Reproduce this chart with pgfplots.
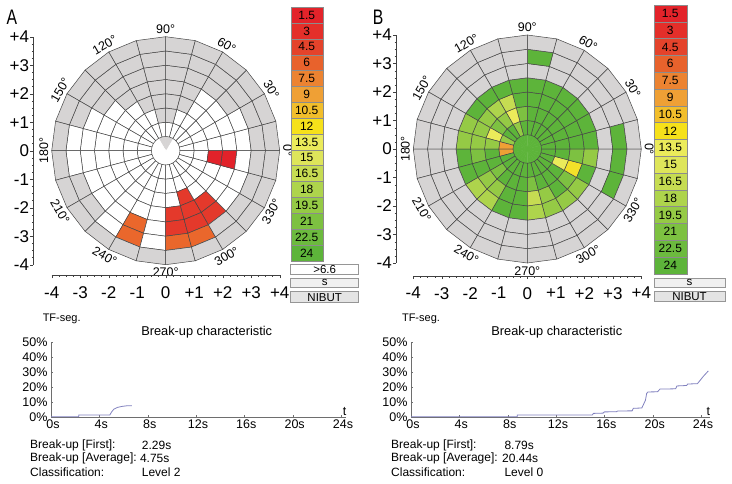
\documentclass[border=0pt]{standalone}
\usepackage{pgfplots}
\usepackage{pgfplotstable}
\pgfplotsset{compat=1.18}
\usepackage{fontspec}
\setmainfont{Liberation Sans}
\newcommand{\fs}[1]{\fontsize{#1}{#1}\selectfont}
\definecolor{gridc}{RGB}{70,70,70}
\definecolor{curvec}{RGB}{128,128,190}
\definecolor{axc}{RGB}{110,110,110}
\definecolor{boxb}{RGB}{150,150,150}
\definecolor{boxs}{RGB}{240,240,240}
\definecolor{boxn}{RGB}{228,228,228}
\definecolor{cb1}{RGB}{227,35,42}
\definecolor{cb2}{RGB}{228,47,42}
\definecolor{cb3}{RGB}{228,67,43}
\definecolor{cb4}{RGB}{232,98,44}
\definecolor{cb5}{RGB}{236,131,49}
\definecolor{cb6}{RGB}{239,160,53}
\definecolor{cb7}{RGB}{242,190,43}
\definecolor{cb8}{RGB}{246,225,26}
\definecolor{cb9}{RGB}{235,235,90}
\definecolor{cb10}{RGB}{222,229,90}
\definecolor{cb11}{RGB}{198,220,82}
\definecolor{cb12}{RGB}{174,212,76}
\definecolor{cb13}{RGB}{149,202,69}
\definecolor{cb14}{RGB}{125,193,65}
\definecolor{cb15}{RGB}{108,186,62}
\definecolor{cb16}{RGB}{93,180,58}

\pgfplotsset{
  colormap={mapA}{rgb255=(214,212,212) rgb255=(255,255,255) rgb255=(226,34,42) rgb255=(228,57,43) rgb255=(234,103,44)},
  colormap={mapB}{rgb255=(214,212,212) rgb255=(93,180,58) rgb255=(108,186,62) rgb255=(125,193,65) rgb255=(149,202,69) rgb255=(174,212,76) rgb255=(198,220,82) rgb255=(235,235,90) rgb255=(243,225,41) rgb255=(239,160,53)},
  polarstyle/.style={anchor=south west, scale only axis, width=228pt, height=228pt,
    xmin=-4,xmax=4,ymin=-4,ymax=4, hide axis, clip=false, colormap access=direct},
  cellplot/.style={surf, shader=flat corner, draw=gridc, line width=0.5pt, point meta=explicit, mesh/cols=25},
  centerplot/.style={surf, shader=flat corner, point meta=explicit, mesh/cols=25},
  yline/.style={anchor=south west, scale only axis, width=5pt, height=228pt,
    xmin=0,xmax=1,ymin=-4,ymax=4, axis x line=none, axis y line=left,
    axis line style={-, draw=black!75}, ytick={-4,...,4},
    yticklabels={-4,-3,-2,-1,0,+1,+2,+3,+4}, minor y tick num=3, tick align=outside,
    major tick length=3pt, minor tick length=1.5pt, tick style={black!75},
    yticklabel style={font=\fs{17}, inner sep=1pt}},
  xline/.style={anchor=south west, scale only axis, width=228pt, height=5pt,
    xmin=-4,xmax=4,ymin=0,ymax=1, axis y line=none, axis x line=bottom,
    axis line style={-, draw=black!75}, xtick={-4,...,4},
    xticklabels={-4,-3,-2,-1,0,+1,+2,+3,+4}, minor x tick num=3, tick align=outside,
    major tick length=3pt, minor tick length=1.5pt, tick style={black!75},
    xticklabel style={font=\fs{17}, inner sep=1pt, yshift=-7pt}},
  tfstyle/.style={anchor=south west, scale only axis, height=75pt,
    xmin=0, ymin=0, ymax=50, axis x line=bottom, axis y line=left,
    axis line style={-, draw=axc}, xtick={0,4,...,24},
    xticklabels={0s,4s,8s,12s,16s,20s,24s}, ytick={0,10,...,50},
    yticklabels={0\%,10\%,20\%,30\%,40\%,50\%}, tick style={axc}, tick align=inside,
    major tick length=2pt, xticklabel style={font=\fs{12.5}, xshift=2pt},
    yticklabel style={font=\fs{12.5}}, clip=false},
}

% polar cell values: a = angle (deg), r = radius, c = colour class
\pgfplotstableread[row sep=\\]{
a r c\\
0 0.5 1\\15 0.5 1\\30 0.5 1\\45 0.5 1\\60 0.5 1\\75 0.5 1\\90 0.5 1\\105 0.5 1\\120 0.5 1\\135 0.5 1\\150 0.5 1\\165 0.5 1\\180 0.5 1\\195 0.5 1\\210 0.5 1\\225 0.5 1\\240 0.5 1\\255 0.5 1\\270 0.5 1\\285 0.5 1\\300 0.5 1\\315 0.5 1\\330 0.5 1\\345 0.5 1\\360 0.5 0\\
0 1 1\\15 1 1\\30 1 1\\45 1 1\\60 1 1\\75 1 0\\90 1 0\\105 1 1\\120 1 1\\135 1 1\\150 1 1\\165 1 1\\180 1 1\\195 1 1\\210 1 1\\225 1 1\\240 1 1\\255 1 1\\270 1 1\\285 1 1\\300 1 1\\315 1 1\\330 1 1\\345 1 1\\360 1 0\\
0 1.5 1\\15 1.5 1\\30 1.5 1\\45 1.5 1\\60 1.5 0\\75 1.5 0\\90 1.5 0\\105 1.5 0\\120 1.5 1\\135 1.5 1\\150 1.5 1\\165 1.5 1\\180 1.5 1\\195 1.5 1\\210 1.5 1\\225 1.5 1\\240 1.5 1\\255 1.5 1\\270 1.5 1\\285 1.5 3\\300 1.5 1\\315 1.5 1\\330 1.5 1\\345 1.5 2\\360 1.5 0\\
0 2 1\\15 2 1\\30 2 1\\45 2 1\\60 2 0\\75 2 0\\90 2 0\\105 2 0\\120 2 0\\135 2 1\\150 2 1\\165 2 1\\180 2 1\\195 2 1\\210 2 1\\225 2 1\\240 2 1\\255 2 1\\270 2 3\\285 2 3\\300 2 3\\315 2 1\\330 2 1\\345 2 2\\360 2 0\\
0 2.5 1\\15 2.5 1\\30 2.5 0\\45 2.5 0\\60 2.5 0\\75 2.5 0\\90 2.5 0\\105 2.5 0\\120 2.5 0\\135 2.5 0\\150 2.5 1\\165 2.5 1\\180 2.5 1\\195 2.5 1\\210 2.5 1\\225 2.5 1\\240 2.5 4\\255 2.5 1\\270 2.5 3\\285 2.5 3\\300 2.5 3\\315 2.5 1\\330 2.5 1\\345 2.5 1\\360 2.5 0\\
0 3 0\\15 3 0\\30 3 0\\45 3 0\\60 3 0\\75 3 0\\90 3 0\\105 3 0\\120 3 0\\135 3 0\\150 3 0\\165 3 1\\180 3 1\\195 3 0\\210 3 0\\225 3 1\\240 3 4\\255 3 1\\270 3 4\\285 3 4\\300 3 0\\315 3 0\\330 3 0\\345 3 0\\360 3 0\\
0 3.5 0\\15 3.5 0\\30 3.5 0\\45 3.5 0\\60 3.5 0\\75 3.5 0\\90 3.5 0\\105 3.5 0\\120 3.5 0\\135 3.5 0\\150 3.5 0\\165 3.5 0\\180 3.5 0\\195 3.5 0\\210 3.5 0\\225 3.5 0\\240 3.5 0\\255 3.5 0\\270 3.5 0\\285 3.5 0\\300 3.5 0\\315 3.5 0\\330 3.5 0\\345 3.5 0\\360 3.5 0\\
0 4 0\\15 4 0\\30 4 0\\45 4 0\\60 4 0\\75 4 0\\90 4 0\\105 4 0\\120 4 0\\135 4 0\\150 4 0\\165 4 0\\180 4 0\\195 4 0\\210 4 0\\225 4 0\\240 4 0\\255 4 0\\270 4 0\\285 4 0\\300 4 0\\315 4 0\\330 4 0\\345 4 0\\360 4 0\\
}\cellsA

\pgfplotstableread[row sep=\\]{
a r c\\
0 0 1\\15 0 1\\30 0 1\\45 0 1\\60 0 0\\75 0 0\\90 0 0\\105 0 0\\120 0 1\\135 0 1\\150 0 1\\165 0 1\\180 0 1\\195 0 1\\210 0 1\\225 0 1\\240 0 1\\255 0 1\\270 0 1\\285 0 1\\300 0 1\\315 0 1\\330 0 1\\345 0 1\\360 0 1\\
0 0.5 1\\15 0.5 1\\30 0.5 1\\45 0.5 1\\60 0.5 1\\75 0.5 1\\90 0.5 1\\105 0.5 1\\120 0.5 1\\135 0.5 1\\150 0.5 1\\165 0.5 1\\180 0.5 1\\195 0.5 1\\210 0.5 1\\225 0.5 1\\240 0.5 1\\255 0.5 1\\270 0.5 1\\285 0.5 1\\300 0.5 1\\315 0.5 1\\330 0.5 1\\345 0.5 1\\360 0.5 1\\
}\centerA

\pgfplotstableread[row sep=\\]{
a r c\\
0 0.5 1\\15 0.5 1\\30 0.5 1\\45 0.5 1\\60 0.5 1\\75 0.5 1\\90 0.5 1\\105 0.5 4\\120 0.5 1\\135 0.5 1\\150 0.5 4\\165 0.5 9\\180 0.5 9\\195 0.5 1\\210 0.5 1\\225 0.5 1\\240 0.5 1\\255 0.5 1\\270 0.5 1\\285 0.5 1\\300 0.5 1\\315 0.5 1\\330 0.5 1\\345 0.5 1\\360 0.5 0\\
0 1 1\\15 1 1\\30 1 1\\45 1 1\\60 1 1\\75 1 1\\90 1 3\\105 1 7\\120 1 4\\135 1 3\\150 1 7\\165 1 4\\180 1 1\\195 1 1\\210 1 3\\225 1 1\\240 1 1\\255 1 1\\270 1 3\\285 1 1\\300 1 1\\315 1 1\\330 1 7\\345 1 1\\360 1 0\\
0 1.5 1\\15 1.5 1\\30 1.5 1\\45 1.5 1\\60 1.5 1\\75 1.5 1\\90 1.5 1\\105 1.5 6\\120 1.5 5\\135 1.5 4\\150 1.5 4\\165 1.5 4\\180 1.5 3\\195 1.5 1\\210 1.5 4\\225 1.5 4\\240 1.5 1\\255 1.5 1\\270 1.5 6\\285 1.5 4\\300 1.5 1\\315 1.5 3\\330 1.5 8\\345 1.5 3\\360 1.5 0\\
0 2 1\\15 2 1\\30 2 1\\45 2 1\\60 2 1\\75 2 1\\90 2 1\\105 2 1\\120 2 1\\135 2 1\\150 2 4\\165 2 4\\180 2 1\\195 2 1\\210 2 5\\225 2 5\\240 2 1\\255 2 1\\270 2 5\\285 2 4\\300 2 4\\315 2 4\\330 2 1\\345 2 4\\360 2 0\\
0 2.5 0\\15 2.5 0\\30 2.5 0\\45 2.5 0\\60 2.5 0\\75 2.5 0\\90 2.5 0\\105 2.5 0\\120 2.5 0\\135 2.5 0\\150 2.5 0\\165 2.5 0\\180 2.5 0\\195 2.5 0\\210 2.5 0\\225 2.5 0\\240 2.5 0\\255 2.5 0\\270 2.5 0\\285 2.5 0\\300 2.5 0\\315 2.5 0\\330 2.5 0\\345 2.5 0\\360 2.5 0\\
0 3 1\\15 3 0\\30 3 0\\45 3 0\\60 3 0\\75 3 1\\90 3 0\\105 3 0\\120 3 0\\135 3 0\\150 3 0\\165 3 0\\180 3 0\\195 3 0\\210 3 0\\225 3 0\\240 3 0\\255 3 0\\270 3 0\\285 3 0\\300 3 0\\315 3 0\\330 3 1\\345 3 1\\360 3 0\\
0 3.5 0\\15 3.5 0\\30 3.5 0\\45 3.5 0\\60 3.5 0\\75 3.5 0\\90 3.5 0\\105 3.5 0\\120 3.5 0\\135 3.5 0\\150 3.5 0\\165 3.5 0\\180 3.5 0\\195 3.5 0\\210 3.5 0\\225 3.5 0\\240 3.5 0\\255 3.5 0\\270 3.5 0\\285 3.5 0\\300 3.5 0\\315 3.5 0\\330 3.5 0\\345 3.5 0\\360 3.5 0\\
0 4 0\\15 4 0\\30 4 0\\45 4 0\\60 4 0\\75 4 0\\90 4 0\\105 4 0\\120 4 0\\135 4 0\\150 4 0\\165 4 0\\180 4 0\\195 4 0\\210 4 0\\225 4 0\\240 4 0\\255 4 0\\270 4 0\\285 4 0\\300 4 0\\315 4 0\\330 4 0\\345 4 0\\360 4 0\\
}\cellsB

\pgfplotstableread[row sep=\\]{
a r c\\
0 0 1\\15 0 1\\30 0 1\\45 0 1\\60 0 1\\75 0 1\\90 0 1\\105 0 1\\120 0 1\\135 0 1\\150 0 1\\165 0 1\\180 0 1\\195 0 1\\210 0 1\\225 0 1\\240 0 1\\255 0 1\\270 0 1\\285 0 1\\300 0 1\\315 0 1\\330 0 1\\345 0 1\\360 0 1\\
0 0.5 1\\15 0.5 1\\30 0.5 1\\45 0.5 1\\60 0.5 1\\75 0.5 1\\90 0.5 1\\105 0.5 1\\120 0.5 1\\135 0.5 1\\150 0.5 1\\165 0.5 1\\180 0.5 1\\195 0.5 1\\210 0.5 1\\225 0.5 1\\240 0.5 1\\255 0.5 1\\270 0.5 1\\285 0.5 1\\300 0.5 1\\315 0.5 1\\330 0.5 1\\345 0.5 1\\360 0.5 1\\
}\centerB

\begin{document}
\begin{tikzpicture}
\path[use as bounding box] (0pt,0pt) rectangle (732pt,483pt);

% ================= Panel A polar =================
\begin{axis}[polarstyle, at={(51.7pt,218.3pt)}, colormap name=mapA]
\addplot[centerplot] table[x expr={\thisrow{r}*cos(\thisrow{a})}, y expr={\thisrow{r}*sin(\thisrow{a})}, meta=c]{\centerA};
\addplot[cellplot] table[x expr={\thisrow{r}*cos(\thisrow{a})}, y expr={\thisrow{r}*sin(\thisrow{a})}, meta=c]{\cellsA};
\node[font=\fs{12.5}, inner sep=1pt, rotate=-90, anchor=south] at (axis cs:4.08,0) {0°};
\node[font=\fs{12.5}, inner sep=1pt, rotate=-60, anchor=south] at (axis cs:3.533,2.04) {30°};
\node[font=\fs{12.5}, inner sep=1pt, rotate=-30, anchor=south] at (axis cs:2.04,3.533) {60°};
\node[font=\fs{12.5}, inner sep=1pt, rotate=0, anchor=south] at (axis cs:0,4.08) {90°};
\node[font=\fs{12.5}, inner sep=1pt, rotate=30, anchor=south] at (axis cs:-2.04,3.533) {120°};
\node[font=\fs{12.5}, inner sep=1pt, rotate=60, anchor=south] at (axis cs:-3.533,2.04) {150°};
\node[font=\fs{12.5}, inner sep=1pt, rotate=90, anchor=south] at (axis cs:-4.08,0) {180°};
\node[font=\fs{12.5}, inner sep=1pt, rotate=-60, anchor=north] at (axis cs:-3.533,-2.04) {210°};
\node[font=\fs{12.5}, inner sep=1pt, rotate=-30, anchor=north] at (axis cs:-2.04,-3.533) {240°};
\node[font=\fs{12.5}, inner sep=1pt, rotate=0, anchor=north] at (axis cs:0,-4.08) {270°};
\node[font=\fs{12.5}, inner sep=1pt, rotate=30, anchor=north] at (axis cs:2.04,-3.533) {300°};
\node[font=\fs{12.5}, inner sep=1pt, rotate=60, anchor=north] at (axis cs:3.533,-2.04) {330°};
\end{axis}
\begin{axis}[yline, at={(33.3pt,218.3pt)}]
\addplot[draw=none, forget plot] coordinates {(0.5,0)};
\end{axis}
\begin{axis}[xline, at={(51.7pt,207.7pt)}]
\addplot[draw=none, forget plot] coordinates {(0,0.5)};
\end{axis}

% ================= Panel B polar =================
\begin{axis}[polarstyle, at={(413.3pt,220pt)}, colormap name=mapB]
\addplot[centerplot] table[x expr={\thisrow{r}*cos(\thisrow{a})}, y expr={\thisrow{r}*sin(\thisrow{a})}, meta=c]{\centerB};
\addplot[cellplot] table[x expr={\thisrow{r}*cos(\thisrow{a})}, y expr={\thisrow{r}*sin(\thisrow{a})}, meta=c]{\cellsB};
\node[font=\fs{12.5}, inner sep=1pt, rotate=-90, anchor=south] at (axis cs:4.08,0) {0°};
\node[font=\fs{12.5}, inner sep=1pt, rotate=-60, anchor=south] at (axis cs:3.533,2.04) {30°};
\node[font=\fs{12.5}, inner sep=1pt, rotate=-30, anchor=south] at (axis cs:2.04,3.533) {60°};
\node[font=\fs{12.5}, inner sep=1pt, rotate=0, anchor=south] at (axis cs:0,4.08) {90°};
\node[font=\fs{12.5}, inner sep=1pt, rotate=30, anchor=south] at (axis cs:-2.04,3.533) {120°};
\node[font=\fs{12.5}, inner sep=1pt, rotate=60, anchor=south] at (axis cs:-3.533,2.04) {150°};
\node[font=\fs{12.5}, inner sep=1pt, rotate=90, anchor=south] at (axis cs:-4.08,0) {180°};
\node[font=\fs{12.5}, inner sep=1pt, rotate=-60, anchor=north] at (axis cs:-3.533,-2.04) {210°};
\node[font=\fs{12.5}, inner sep=1pt, rotate=-30, anchor=north] at (axis cs:-2.04,-3.533) {240°};
\node[font=\fs{12.5}, inner sep=1pt, rotate=0, anchor=north] at (axis cs:0,-4.08) {270°};
\node[font=\fs{12.5}, inner sep=1pt, rotate=30, anchor=north] at (axis cs:2.04,-3.533) {300°};
\node[font=\fs{12.5}, inner sep=1pt, rotate=60, anchor=north] at (axis cs:3.533,-2.04) {330°};
\end{axis}
\begin{axis}[yline, at={(396pt,220pt)}]
\addplot[draw=none, forget plot] coordinates {(0.5,0)};
\end{axis}
\begin{axis}[xline, at={(413.3pt,207pt)}]
\addplot[draw=none, forget plot] coordinates {(0,0.5)};
\end{axis}

% ================= colour scales =================
\foreach \i/\c/\t in {0/cb1/1.5,1/cb2/3,2/cb3/4.5,3/cb4/6,4/cb5/7.5,5/cb6/9,6/cb7/10.5,7/cb8/12,8/cb9/13.5,9/cb10/15,10/cb11/16.5,11/cb12/18,12/cb13/19.5,13/cb14/21,14/cb15/22.5,15/cb16/24}{
  \filldraw[fill=\c, draw=black!45, line width=0.4pt] (290.7pt,{475.7pt-\i*15.84pt}) rectangle (322.7pt,{475.7pt-(\i+1)*15.84pt});
  \node[font=\fs{12}, inner sep=0pt] at (306.7pt,{475.7pt-(\i+0.5)*15.84pt}) {\t};
  \filldraw[fill=\c, draw=black!45, line width=0.4pt] (654pt,{478pt-\i*16.8pt}) rectangle (686.7pt,{478pt-(\i+1)*16.8pt});
  \node[font=\fs{12}, inner sep=0pt] at (670.3pt,{478pt-(\i+0.5)*16.8pt}) {\t};
}
\filldraw[fill=white, draw=boxb, line width=0.5pt] (290.7pt,208.9pt) rectangle (358.7pt,218.7pt);
\node[font=\fs{11.5}, inner sep=0pt] at (324.7pt,213.8pt) {>6.6};
\filldraw[fill=boxs, draw=boxb, line width=0.5pt] (290.7pt,195.7pt) rectangle (358.7pt,205pt);
\node[font=\fs{11.5}, inner sep=0pt] at (324.7pt,200.8pt) {s};
\filldraw[fill=boxn, draw=boxb, line width=0.5pt] (290.7pt,180.3pt) rectangle (358.7pt,191.3pt);
\node[font=\fs{11.5}, inner sep=0pt] at (324.7pt,185.8pt) {NIBUT};
\filldraw[fill=boxs, draw=boxb, line width=0.5pt] (654pt,195.7pt) rectangle (725pt,204.3pt);
\node[font=\fs{11.5}, inner sep=0pt] at (689.5pt,200.5pt) {s};
\filldraw[fill=boxn, draw=boxb, line width=0.5pt] (654pt,181.3pt) rectangle (725pt,191.7pt);
\node[font=\fs{11.5}, inner sep=0pt] at (689.5pt,186.5pt) {NIBUT};

% panel letters
\node[font=\fs{21}, xscale=0.75, inner sep=0pt] at (12pt,465.5pt) {A};
\node[font=\fs{21}, xscale=0.75, inner sep=0pt] at (378pt,466pt) {B};

% ================= break-up curves =================
\begin{axis}[tfstyle, at={(51pt,66.3pt)}, width=294.8pt, xmax=24.4]
\addplot[color=curvec, line width=0.8pt] coordinates {(0,0) (2.29,0) (2.29,1.1) (4.87,1.1) (5.0,3) (5.2,5) (5.5,6.2) (5.9,6.9) (6.3,7.3) (6.7,7.3)};
\node[anchor=south, font=\fs{12.5}, inner sep=0.5pt] at (axis cs:24.3,0) {t};
\end{axis}
\begin{axis}[tfstyle, at={(411pt,66.3pt)}, width=298.5pt, xmax=24.7]
\addplot[color=curvec, line width=0.8pt] coordinates {(0,0) (8.79,0) (8.79,1.2) (15.0,1.2) (15.1,2.2) (15.9,2.4) (16.0,3.2) (17.0,3.3) (17.1,3.8) (18.3,3.9) (18.4,5.6) (19.1,5.8) (19.2,7.5) (19.4,11) (19.5,15.5) (19.6,16.5) (20.4,16.6) (20.6,18.4) (21.9,18.6) (22.0,20.5) (22.8,20.8) (22.9,21.8) (23.7,22.0) (23.8,23) (24.2,27) (24.6,30.5)};
\node[anchor=south, font=\fs{12.5}, inner sep=0.5pt] at (axis cs:24.6,0) {t};
\end{axis}

\node[font=\fs{11}, inner sep=0pt] at (61.7pt,164pt) {TF-seg.};
\node[font=\fs{12.8}, inner sep=0pt] at (206.7pt,151.3pt) {Break-up characteristic};
\node[font=\fs{11}, inner sep=0pt] at (421pt,164pt) {TF-seg.};
\node[font=\fs{12.8}, inner sep=0pt] at (556.8pt,151.3pt) {Break-up characteristic};

\node[font=\fs{12}, inner sep=0pt, anchor=west] at (30pt,38pt) {Break-up [First]:};
\node[font=\fs{12}, inner sep=0pt, anchor=west] at (30pt,24.5pt) {Break-up [Average]:};
\node[font=\fs{12}, inner sep=0pt, anchor=west] at (30pt,11pt) {Classification:};
\node[font=\fs{12}, inner sep=0pt, anchor=west] at (141.7pt,38pt) {2.29s};
\node[font=\fs{12}, inner sep=0pt, anchor=west] at (139.8pt,24.5pt) {4.75s};
\node[font=\fs{12}, inner sep=0pt, anchor=west] at (141.7pt,11pt) {Level 2};

\node[font=\fs{12}, inner sep=0pt, anchor=west] at (391pt,38pt) {Break-up [First]:};
\node[font=\fs{12}, inner sep=0pt, anchor=west] at (391pt,24.5pt) {Break-up [Average]:};
\node[font=\fs{12}, inner sep=0pt, anchor=west] at (391pt,11pt) {Classification:};
\node[font=\fs{12}, inner sep=0pt, anchor=west] at (504.3pt,38pt) {8.79s};
\node[font=\fs{12}, inner sep=0pt, anchor=west] at (502pt,24.5pt) {20.44s};
\node[font=\fs{12}, inner sep=0pt, anchor=west] at (504.3pt,11pt) {Level 0};
\end{tikzpicture}
\end{document}
